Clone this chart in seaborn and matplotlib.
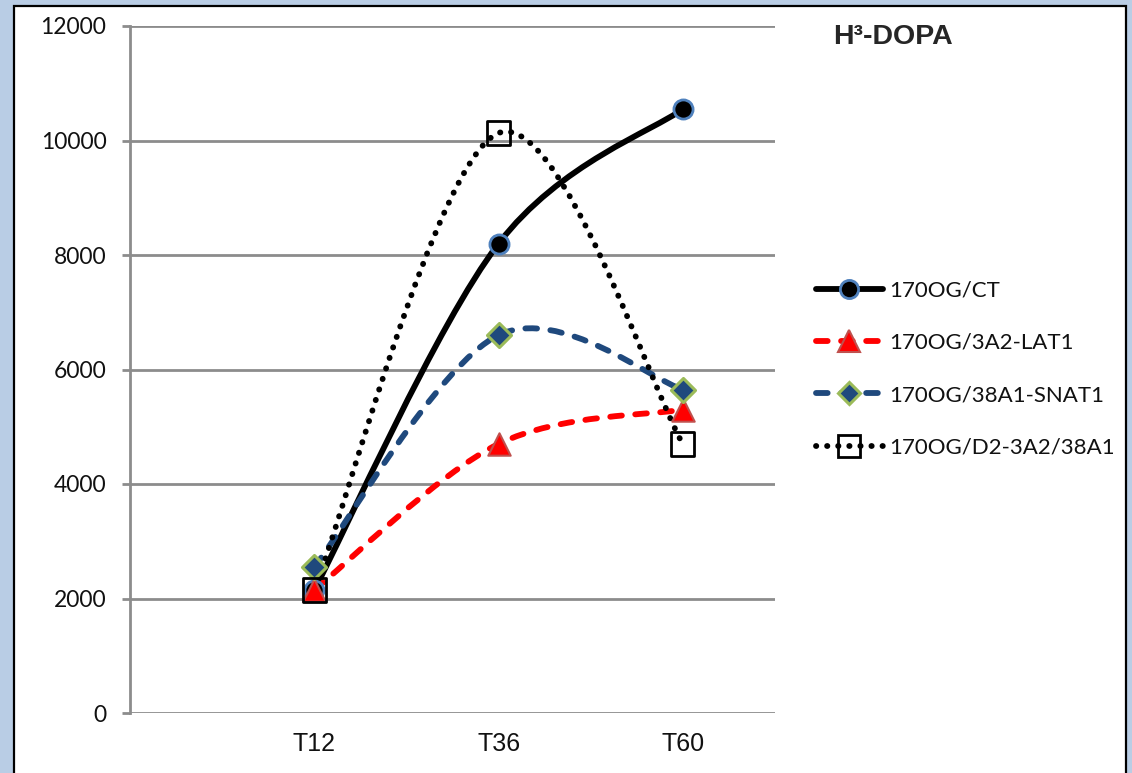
import numpy as np
import pandas as pd
import matplotlib.pyplot as plt
from matplotlib.path import Path
from matplotlib.patches import PathPatch, Rectangle
from matplotlib.lines import Line2D
import seaborn as sns

# data
times = ["T12", "T36", "T60"]
series = ["170OG/CT", "170OG/3A2-LAT1", "170OG/38A1-SNAT1", "170OG/D2-3A2/38A1"]
ct = [2150, 8200, 10550]
lat1 = [2150, 4700, 5300]
snat1 = [2550, 6600, 5650]
d2 = [2150, 10130, 4700]
yticks = [0, 2000, 4000, 6000, 8000, 10000, 12000]

values = {series[0]: ct, series[1]: lat1, series[2]: snat1, series[3]: d2}

rows = []
for name, vals in values.items():
    for i, t in enumerate(times):
        rows.append({"series": name, "time": t, "pos": i, "value": vals[i]})
df = pd.DataFrame(rows)

LW = 4.2

# styles per series
line_style = {
    series[0]: dict(color="black", dashes=None),
    series[1]: dict(color="#FF0000", dashes=(2.0, 2.3)),
    series[2]: dict(color="#1F497D", dashes=(2.0, 2.3)),
    series[3]: dict(color="black", dashes=(0.05, 1.85)),
}
marker_style = {
    series[0]: dict(marker="o", s=190, color="black", edgecolor="#4F81BD", linewidth=2),
    series[1]: dict(marker="^", s=260, color="#FF0000", edgecolor="#C0504D", linewidth=1.5),
    series[2]: dict(marker="D", s=150, color="#1F497D", edgecolor="#9BBB59", linewidth=2.2),
    series[3]: dict(marker="s", s=280, color="none", edgecolor="black", linewidth=2),
}

sns.set_style("white")
plt.rcParams["font.family"] = ["Lato", "DejaVu Sans"]

fig = plt.figure(figsize=(11.32, 7.73), dpi=100)
fig.patch.set_facecolor("#B9CDE5")
fig.patches.append(Rectangle((14 / 1132, -0.02), 1112 / 1132, 1.02 - 6 / 773,
                             transform=fig.transFigure, facecolor="white",
                             edgecolor="black", linewidth=1.6, zorder=0))
ax = fig.add_axes([130 / 1132, 1 - 713 / 773, 645 / 1132, 687 / 773])
ax.set_facecolor("none")
ax.set_zorder(2)


def smooth_path(xs, ys):
    # Excel-style smoothed line: cubic Bezier segments through the points
    pts = np.column_stack([xs, ys]).astype(float)
    n = len(pts)
    verts = [pts[0]]
    codes = [Path.MOVETO]
    for i in range(n - 1):
        p_prev = pts[max(i - 1, 0)]
        p0 = pts[i]
        p1 = pts[i + 1]
        p_next = pts[min(i + 2, n - 1)]
        c1 = p0 + (p1 - p_prev) / 6
        c2 = p1 - (p_next - p0) / 6
        verts += [c1, c2, p1]
        codes += [Path.CURVE4] * 3
    return Path(verts, codes)


for name in series:
    sub = df[df["series"] == name]
    st = line_style[name]
    patch = PathPatch(smooth_path(sub["pos"], sub["value"]), fill=False,
                      edgecolor=st["color"], linewidth=LW, capstyle="round",
                      joinstyle="round", zorder=3)
    if st["dashes"] is not None:
        patch.set_linestyle((0, st["dashes"]))
    ax.add_patch(patch)

for name in series:
    sub = df[df["series"] == name]
    ms = marker_style[name]
    sns.scatterplot(data=sub, x="pos", y="value", ax=ax, marker=ms["marker"],
                    s=ms["s"], color=ms["color"], edgecolor=ms["edgecolor"],
                    linewidth=ms["linewidth"], zorder=4, legend=False)

ax.set_xlim(-1, 2.5)
ax.set_ylim(0, 12000)
ax.set_yticks(yticks)
ax.set_yticklabels([str(v) for v in yticks])
ax.set_xticks(range(len(times)))
ax.set_xticklabels(times, fontfamily="Liberation Sans")
ax.set_xlabel("")
ax.set_ylabel("")
ax.grid(axis="y", color="#8C8C8C", linewidth=2)
ax.grid(axis="x", visible=False)
ax.set_axisbelow(True)
for side in ["top", "right", "bottom"]:
    ax.spines[side].set_visible(False)
ax.spines["left"].set_color("#8C8C8C")
ax.spines["left"].set_linewidth(2)
ax.tick_params(axis="y", length=6, width=2, color="#8C8C8C", pad=11,
               labelsize=16.5, labelcolor="#111111", direction="out", left=True)
ax.tick_params(axis="x", length=0, pad=14, labelsize=18, labelcolor="#111111")

# legend
handles = []
for name in series:
    st = line_style[name]
    ms = marker_style[name]
    h = Line2D([], [], color=st["color"], linewidth=LW,
               linestyle="-" if st["dashes"] is None else (0, st["dashes"]),
               dash_capstyle="round", marker=ms["marker"],
               markersize=np.sqrt(ms["s"]) * 0.95,
               markerfacecolor=ms["color"], markeredgecolor=ms["edgecolor"],
               markeredgewidth=ms["linewidth"])
    handles.append(h)
leg = fig.legend(handles, series, loc="center left",
                 bbox_to_anchor=(796 / 1132, 1 - 369 / 773),
                 frameon=False, fontsize=16, handlelength=3.0, labelspacing=1.45,
                 handletextpad=0.3, labelcolor="#111111")
leg.set_zorder(3)

fig.text(833 / 1132, 1 - 37 / 773, "H³-DOPA", fontfamily="Liberation Sans",
         fontweight="bold", fontsize=20.5, va="center", ha="left", zorder=3)

fig.savefig("out.png", dpi=100, facecolor=fig.get_facecolor())
